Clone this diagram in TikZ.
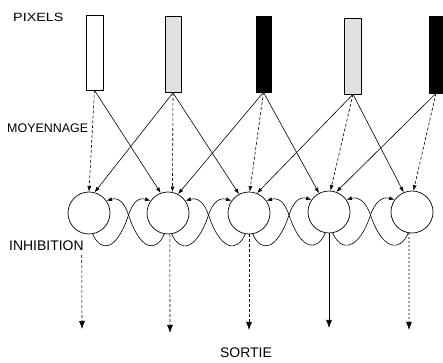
\documentclass[tikz,border=0pt]{standalone}
\usepackage{fontspec}
\setsansfont{Liberation Sans}
\usepackage{tikz}
\usetikzlibrary{arrows.meta}
\tikzset{pix/.style={draw, line width=0.6bp, inner sep=0pt, minimum width=16bp, minimum height=76bp},
  neuron/.style={draw, circle, line width=0.7bp, inner sep=0pt, minimum size=42bp},
  lab/.style={font=\sffamily, inner sep=0pt},
  conn/.style={line width=0.6bp, -{Latex[length=5.5bp,width=4bp]}},
  own/.style={conn, dash pattern=on 3bp off 2bp},
  outp/.style={line width=0.6bp, -{Latex[length=8bp,width=6bp]}}}

\begin{document}
\begin{tikzpicture}[line join=bevel]
\useasboundingbox (0bp,0bp) rectangle (443bp,363bp);
%%
\node (p_1) at (94.5bp,310.5bp) [pix,minimum width=17bp,minimum height=75bp,fill=white] {};
  \node (p_2) at (173.0bp,308.5bp) [pix,fill=black!12] {};
  \node (p_3) at (263.5bp,309.0bp) [pix,minimum width=15bp,fill=black] {};
  \node (p_4) at (353.0bp,307.0bp) [pix,minimum width=17bp,fill=black!12] {};
  \node (p_5) at (436.0bp,308.5bp) [pix,minimum width=13bp,minimum height=77bp,fill=black] {};
  \node (n_1) at (89.0bp,150.0bp) [neuron] {};
  \node (n_2) at (168.0bp,150.0bp) [neuron] {};
  \node (n_3) at (249.0bp,150.0bp) [neuron] {};
  \node (n_4) at (329.0bp,151.0bp) [neuron] {};
  \node (n_5) at (412.0bp,151.0bp) [neuron] {};
  \coordinate (o_1) at (82.0bp,34.0bp);
  \coordinate (o_2) at (170.0bp,30.0bp);
  \coordinate (o_3) at (249.0bp,33.0bp);
  \coordinate (o_4) at (329.0bp,35.0bp);
  \coordinate (o_5) at (409.0bp,33.0bp);
  \node (pixels) at (13.0bp,345.5bp) [lab,anchor=west,font=\sffamily\fontsize{12}{13}\selectfont,xscale=1.2] {PIXELS};
  \node (moyen) at (7.0bp,234.5bp) [lab,anchor=west,font=\sffamily\fontsize{12.5}{13}\selectfont] {MOYENNAGE};
  \node (inhib) at (9.0bp,117.5bp) [lab,anchor=west,font=\sffamily\fontsize{14}{15}\selectfont] {INHIBITION};
  \node (sortie) at (246.0bp,10.0bp) [lab,font=\sffamily\fontsize{14}{15}\selectfont] {SORTIE};
%
  \draw [own] (p_1.south) -- (n_1.north);
  \draw [conn] (p_1.south) -- (n_2.110);
  \draw [conn] (p_2.south) -- (n_1.75);
  \draw [own] (p_2.south) -- (n_2.78);
  \draw [conn] (p_2.south) -- (n_3.118);
  \draw [conn] (p_3.south) -- (n_2.62);
  \draw [own] (p_3.south) -- (n_3.88);
  \draw [conn] (p_3.south) -- (n_4.118);
  \draw [conn] (p_4.south) -- (n_3.68);
  \draw [own] (p_4.south) -- (n_4.86);
  \draw [conn] (p_4.south) -- (n_5.113);
  \draw [conn] (p_5.south) -- (n_4.70);
  \draw [own] (p_5.south) -- (n_5.86);
%
  \draw [conn] (n_1.-80) ..controls (101.0bp,110.0bp) and (116.5bp,112.0bp)  .. (128.5bp,148.0bp) ..controls (132.5bp,160.0bp) and (138.0bp,166.0bp)  .. (n_2.145);
  \draw [conn] (n_2.-100) ..controls (156.0bp,110.0bp) and (140.5bp,112.0bp)  .. (128.5bp,148.0bp) ..controls (124.5bp,160.0bp) and (119.0bp,166.0bp)  .. (n_1.35);
  \draw [conn] (n_2.-80) ..controls (180.0bp,110.0bp) and (196.5bp,112.0bp)  .. (208.5bp,148.0bp) ..controls (212.5bp,160.0bp) and (219.0bp,166.0bp)  .. (n_3.145);
  \draw [conn] (n_3.-100) ..controls (237.0bp,110.0bp) and (220.5bp,112.0bp)  .. (208.5bp,148.0bp) ..controls (204.5bp,160.0bp) and (198.0bp,166.0bp)  .. (n_2.35);
  \draw [conn] (n_3.-80) ..controls (261.0bp,110.0bp) and (277.0bp,112.0bp)  .. (289.0bp,148.0bp) ..controls (293.0bp,160.0bp) and (299.0bp,167.0bp)  .. (n_4.145);
  \draw [conn] (n_4.-100) ..controls (317.0bp,111.0bp) and (301.0bp,112.0bp)  .. (289.0bp,148.0bp) ..controls (285.0bp,160.0bp) and (279.0bp,166.0bp)  .. (n_3.35);
  \draw [conn] (n_4.-80) ..controls (341.0bp,111.0bp) and (358.5bp,112.0bp)  .. (370.5bp,148.0bp) ..controls (374.5bp,160.0bp) and (382.0bp,167.0bp)  .. (n_5.145);
  \draw [conn] (n_5.-100) ..controls (400.0bp,111.0bp) and (382.5bp,112.0bp)  .. (370.5bp,148.0bp) ..controls (366.5bp,160.0bp) and (359.0bp,167.0bp)  .. (n_4.35);
%
  \draw [outp,dash pattern=on 3bp off 2bp,shorten <=22bp] (n_1.-110) -- (o_1);
  \draw [outp,densely dashed] (n_2.-85) -- (o_2);
  \draw [outp,dash pattern=on 3bp off 2bp] (n_3.south) -- (o_3);
  \draw [outp] (n_4.south) -- (o_4);
  \draw [outp,dash pattern=on 2bp off 2bp] (n_5.-98) -- (o_5);
%
\end{tikzpicture}
\end{document}
